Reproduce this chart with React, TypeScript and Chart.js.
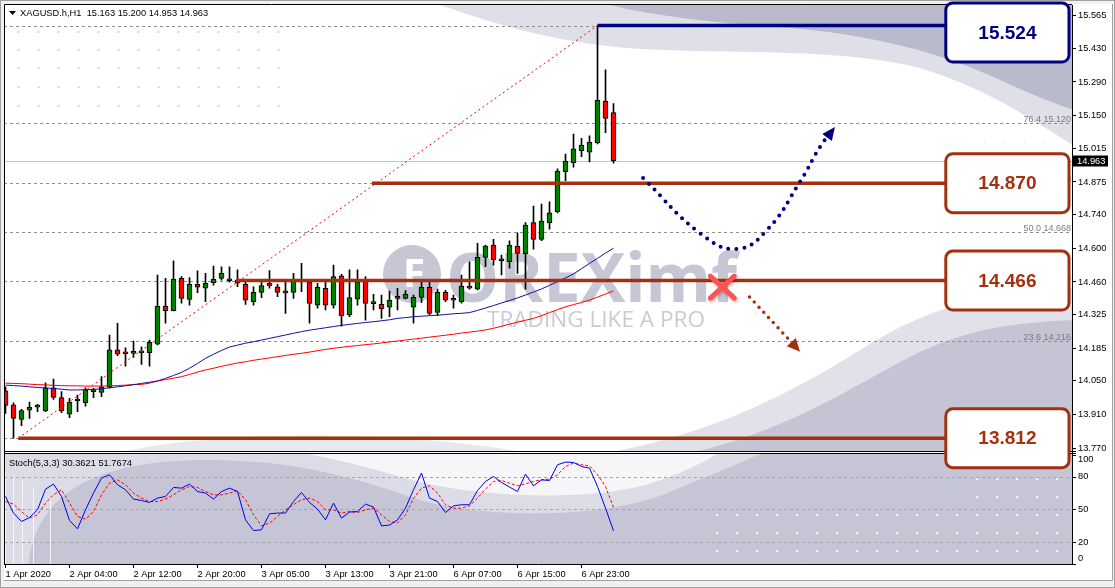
import React, { useEffect, useRef } from "react";
import { Chart, registerables } from "chart.js";

Chart.register(...registerables);

// ---------- data ----------
const opens = [14.008,13.950,13.890,13.928,13.941,13.925,14.021,13.980,13.911,13.966,13.959,14.005,14.002,14.023,14.178,14.163,14.164,14.166,14.167,14.202,14.360,14.341,14.475,14.388,14.450,14.434,14.457,14.475,14.466,14.468,14.450,14.378,14.417,14.454,14.440,14.416,14.417,14.460,14.461,14.364,14.434,14.364,14.486,14.323,14.389,14.468,14.370,14.367,14.355,14.392,14.392,14.355,14.396,14.438,14.334,14.417,14.384,14.378,14.443,14.430,14.562,14.613,14.549,14.544,14.609,14.576,14.706,14.637,14.706,14.752,14.918,14.955,15.005,14.999,15.038,15.211,15.163];
const highs = [14.025,13.959,13.932,13.962,13.952,14.042,14.057,14.005,13.977,13.991,14.021,14.019,14.067,14.240,14.288,14.187,14.215,14.191,14.219,14.489,14.475,14.548,14.482,14.478,14.506,14.496,14.526,14.523,14.523,14.510,14.464,14.440,14.461,14.507,14.450,14.468,14.496,14.537,14.468,14.454,14.461,14.530,14.492,14.510,14.510,14.482,14.409,14.406,14.422,14.434,14.424,14.406,14.461,14.461,14.430,14.425,14.406,14.489,14.544,14.620,14.613,14.637,14.572,14.631,14.664,14.706,14.775,14.783,14.793,14.930,14.991,15.074,15.056,15.066,15.524,15.340,15.200];
const lows = [13.915,13.812,13.864,13.894,13.922,13.922,13.973,13.918,13.897,13.922,13.945,13.980,13.984,14.019,14.154,14.111,14.147,14.118,14.111,14.199,14.289,14.340,14.372,14.364,14.416,14.378,14.447,14.468,14.459,14.440,14.367,14.364,14.395,14.434,14.399,14.330,14.392,14.420,14.289,14.351,14.344,14.351,14.277,14.316,14.364,14.302,14.344,14.309,14.316,14.344,14.390,14.289,14.374,14.323,14.320,14.378,14.351,14.372,14.430,14.427,14.523,14.530,14.489,14.517,14.496,14.430,14.596,14.631,14.679,14.747,14.880,14.936,14.980,14.958,15.033,15.080,14.953];
const closes = [13.948,13.894,13.926,13.940,13.943,14.021,13.981,13.925,13.962,13.968,14.012,14.007,14.025,14.178,14.160,14.162,14.165,14.167,14.210,14.360,14.341,14.472,14.392,14.450,14.438,14.454,14.471,14.496,14.465,14.455,14.385,14.417,14.445,14.445,14.417,14.415,14.464,14.462,14.371,14.438,14.364,14.482,14.319,14.395,14.461,14.371,14.371,14.348,14.385,14.393,14.410,14.396,14.438,14.330,14.417,14.385,14.386,14.443,14.434,14.562,14.609,14.551,14.548,14.613,14.579,14.696,14.637,14.713,14.747,14.920,14.962,15.012,15.028,15.040,15.215,15.139,14.963];

const maFast = [14.032,14.030,14.028,14.025,14.022,14.020,14.018,14.015,14.012,14.012,14.013,14.014,14.017,14.021,14.025,14.029,14.034,14.039,14.044,14.049,14.060,14.072,14.085,14.102,14.122,14.143,14.160,14.176,14.190,14.198,14.206,14.212,14.219,14.226,14.233,14.240,14.247,14.254,14.260,14.265,14.270,14.275,14.280,14.284,14.288,14.292,14.295,14.299,14.303,14.309,14.312,14.316,14.318,14.320,14.322,14.325,14.328,14.330,14.333,14.342,14.352,14.362,14.373,14.383,14.394,14.406,14.418,14.431,14.446,14.461,14.477,14.493,14.515,14.537,14.558,14.580,14.600];
const maSlow = [14.040,14.039,14.038,14.036,14.034,14.033,14.031,14.030,14.029,14.029,14.028,14.028,14.028,14.029,14.030,14.032,14.034,14.035,14.040,14.049,14.055,14.061,14.067,14.076,14.086,14.095,14.102,14.110,14.117,14.124,14.129,14.135,14.140,14.145,14.150,14.155,14.160,14.164,14.169,14.175,14.180,14.185,14.189,14.193,14.196,14.200,14.203,14.207,14.211,14.215,14.219,14.223,14.227,14.231,14.235,14.239,14.243,14.248,14.252,14.256,14.261,14.268,14.276,14.285,14.293,14.301,14.309,14.320,14.333,14.345,14.357,14.366,14.375,14.385,14.397,14.410,14.423];

const stochK = [61.8,46.6,38.9,42.5,49.6,68.5,73.1,61.8,39.8,32.2,49.6,64.9,78.6,81.6,72.5,67.9,59.4,58.1,56.3,60.3,61.8,70.0,69.4,73.1,66.3,64.9,59.4,66.3,69.4,66.3,40.4,30.6,31.3,45.9,46.6,46.6,57.2,65.4,56.3,50.2,40.4,55.7,42.0,47.5,48.0,54.8,52.1,34.9,35.6,40.4,51.1,67.9,83.2,60.3,57.2,47.1,53.2,54.2,54.2,67.2,75.5,80.1,74.6,70.4,66.3,82.2,71.5,77.0,76.4,90.8,93.2,92.9,89.2,87.7,70.9,51.1,30.4];
const stochD = [57.2,54.8,48.0,42.0,45.0,55.7,63.3,67.9,55.7,43.5,41.1,48.0,63.3,74.0,77.0,72.5,64.9,60.3,57.2,57.2,59.4,63.3,67.9,70.9,70.0,66.3,63.3,63.3,64.9,67.0,58.7,45.0,34.9,37.4,43.5,49.6,54.2,58.7,60.3,57.2,49.6,49.6,46.6,48.0,47.1,49.6,51.1,45.0,38.9,37.5,45.0,60.0,69.4,71.5,64.9,54.2,51.1,51.1,53.2,60.3,68.5,75.5,76.4,74.0,71.5,73.4,75.5,77.0,77.7,81.6,89.2,92.3,90.8,89.8,81.6,70.9,51.8];

const priceTicks = [15.565, 15.43, 15.29, 15.15, 15.015, 14.875, 14.74, 14.6, 14.46, 14.325, 14.185, 14.05, 13.91, 13.77];
const stochTicks = [100, 80, 50, 20, 0];
const stochLevels = [80, 50, 20];
const timeTickIndex = [0, 8, 16, 24, 32, 40, 48, 56, 64, 72];
const timeTickLabels = ["1 Apr 2020", "2 Apr 04:00", "2 Apr 12:00", "2 Apr 20:00", "3 Apr 05:00", "3 Apr 13:00", "3 Apr 21:00", "6 Apr 07:00", "6 Apr 15:00", "6 Apr 23:00"];

const fibLow = 13.812;
const fibHigh = 15.524;
const fibStartIndex = 1.6;
const fibEndIndex = 74;
const fibLevels = [0, 23.6, 38.2, 50, 61.8, 76.4, 100];

const levelPrices = [15.524, 14.87, 14.466, 13.812];
const levelStartIndex = [74, 45.8, 28.8, 1.6];
const levelEndIndex = 117.6;
const lastPrice = 14.963;

const upPathIndex = [79.7, 86.8, 91.4, 95.2, 99.3, 101.8, 103.3];
const upPathPrice = [14.891, 14.663, 14.597, 14.676, 14.875, 15.02, 15.086];
const downPathIndex = [93.0, 98.9];
const downPathPrice = [14.398, 14.186];
const crossIndex = 89.6;
const crossPrice = 14.439;

const symbolTitle = "XAGUSD.h,H1  15.163 15.200 14.953 14.963";
const stochTitle = "Stoch(5,3,3) 30.3621 51.7674";

// ---------- styles ----------
const GREEN = "#008000";
const RED = "#ff0000";
const NAVY = "#000080";
const BROWN = "#a3300f";
const FONT = '"Liberation Sans", Arial, sans-serif';
const AX_FONT = { family: FONT, size: 9.3 };

const decor: any = {
  id: "decor",
  beforeDraw(chart: any) {
    const { ctx, chartArea: ca, scales } = chart;
    const y = scales.y;
    const y2 = scales.y2;
    ctx.save();
    ctx.fillStyle = "#f0f0f0";
    ctx.fillRect(0, 0, chart.width, chart.height);
    ctx.fillStyle = "#ffffff";
    ctx.fillRect(4, 4, 1108, 576);
    ctx.strokeStyle = "#a0a0a0";
    ctx.lineWidth = 1;
    ctx.strokeRect(0.5, 0.5, chart.width - 1, chart.height - 1);
    ctx.beginPath();
    ctx.moveTo(1112.5, 4);
    ctx.lineTo(1112.5, 580.5);
    ctx.lineTo(4, 580.5);
    ctx.stroke();

    // main panel swooshes
    ctx.save();
    ctx.beginPath();
    ctx.rect(ca.left, y.top, ca.right - ca.left, y.bottom - y.top - 1);
    ctx.clip();
    ctx.fillStyle = "#dfdfe8";
    ctx.beginPath();
    ctx.moveTo(425, 0);
    ctx.bezierCurveTo(480, 18, 540, 42, 640, 49);
    ctx.bezierCurveTo(740, 54, 840, 48, 920, 68);
    ctx.bezierCurveTo(990, 90, 1030, 118, 1080, 150);
    ctx.lineTo(1080, 0);
    ctx.closePath();
    ctx.fill();
    ctx.fillStyle = "#babacd";
    ctx.beginPath();
    ctx.moveTo(590, 0);
    ctx.bezierCurveTo(640, 14, 700, 22, 780, 27);
    ctx.bezierCurveTo(870, 34, 940, 52, 1000, 80);
    ctx.bezierCurveTo(1030, 94, 1055, 104, 1080, 112);
    ctx.lineTo(1080, 0);
    ctx.closePath();
    ctx.fill();
    // bottom-right hill
    ctx.fillStyle = "#e1e1ea";
    ctx.beginPath();
    ctx.moveTo(560, 460);
    ctx.bezierCurveTo(690, 445, 780, 400, 860, 350);
    ctx.bezierCurveTo(920, 312, 980, 290, 1080, 288);
    ctx.lineTo(1080, 460);
    ctx.closePath();
    ctx.fill();
    ctx.fillStyle = "#c4c4d4";
    ctx.beginPath();
    ctx.moveTo(650, 460);
    ctx.bezierCurveTo(760, 445, 830, 400, 900, 362);
    ctx.bezierCurveTo(955, 333, 1000, 322, 1080, 320);
    ctx.lineTo(1080, 460);
    ctx.closePath();
    ctx.fill();
    // bottom-left bump
    ctx.fillStyle = "#e8e8ef";
    ctx.beginPath();
    ctx.moveTo(110, 455);
    ctx.bezierCurveTo(200, 430, 400, 428, 540, 455);
    ctx.closePath();
    ctx.fill();
    // dots top-left
    ctx.fillStyle = "#d2d2de";
    for (const dy of [32, 50, 68, 87, 106]) {
      for (let k = 0; k < 14; k++) {
        ctx.fillRect(17.5 + 20 * k, dy - 1, 2, 2);
      }
    }
    ctx.fillStyle = "#f2f2f6";
    for (let k = 0; k < 4; k++) ctx.fillRect(984 + 20 * k, 141, 2, 2);
    ctx.restore();

    // stochastic panel background
    ctx.save();
    ctx.beginPath();
    ctx.rect(ca.left, y2.top + 1.5, ca.right - ca.left, y2.bottom - y2.top - 1.5);
    ctx.clip();
    ctx.fillStyle = "#c5c5d5";
    ctx.fillRect(0, 440, 1100, 140);
    ctx.fillStyle = "#dcdce6";
    ctx.beginPath();
    ctx.moveTo(0, 440);
    ctx.lineTo(0, 570);
    ctx.lineTo(28, 570);
    ctx.bezierCurveTo(34, 495, 90, 462, 200, 460);
    ctx.bezierCurveTo(300, 459, 360, 480, 420, 500);
    ctx.bezierCurveTo(490, 520, 610, 518, 670, 492);
    ctx.bezierCurveTo(710, 475, 750, 460, 790, 440);
    ctx.closePath();
    ctx.fill();
    ctx.fillStyle = "#f6f6f9";
    ctx.beginPath();
    ctx.moveTo(230, 440);
    ctx.bezierCurveTo(330, 456, 370, 468, 420, 482);
    ctx.bezierCurveTo(500, 500, 600, 500, 655, 482);
    ctx.bezierCurveTo(690, 470, 715, 458, 735, 440);
    ctx.closePath();
    ctx.fill();
    ctx.strokeStyle = "rgba(255,255,255,0.75)";
    ctx.lineWidth = 1;
    for (const vx of [5.5, 13.5, 22.5, 33.5, 50.5]) {
      ctx.beginPath();
      ctx.moveTo(vx, 470 + (vx - 5) * 0.6);
      ctx.lineTo(vx, 570);
      ctx.stroke();
    }
    ctx.fillStyle = "#f4f4f8";
    for (const dy of [515, 533, 551]) {
      for (let k = 0; k < 18; k++) ctx.fillRect(716 + 20 * k, dy - 1, 2.2, 2.2);
    }
    for (const dy of [479, 497]) {
      for (let k = 0; k < 5; k++) ctx.fillRect(976 + 20 * k, dy - 1, 2.2, 2.2);
    }
    ctx.restore();
    ctx.restore();
  },
  beforeDatasetsDraw(chart: any) {
    const { ctx, chartArea: ca, scales } = chart;
    const y = scales.y;
    const y2 = scales.y2;
    ctx.save();
    // watermark
    ctx.fillStyle = "#c6c6d4";
    ctx.beginPath();
    ctx.arc(412, 274, 29, 0, Math.PI * 2);
    ctx.fill();
    ctx.fillStyle = "#ffffff";
    ctx.font = `700 40px "Open Sans", ${FONT}`;
    ctx.textAlign = "center";
    ctx.textBaseline = "middle";
    ctx.fillText("F", 414, 276);
    const fitText = (t: string, x0: number, base: number, w: number, font: string) => {
      ctx.font = font;
      const m = ctx.measureText(t).width;
      ctx.save();
      ctx.translate(x0, base);
      ctx.scale(w / m, 1);
      ctx.textAlign = "left";
      ctx.textBaseline = "alphabetic";
      ctx.fillText(t, 0, 0);
      ctx.restore();
    };
    ctx.fillStyle = "#c6c6d4";
    fitText("OREXimf", 446, 302, 291, `700 68px "Open Sans", ${FONT}`);
    ctx.fillStyle = "#cacad7";
    fitText("TRADING LIKE A PRO", 487, 327, 218, `400 22px "Open Sans", ${FONT}`);

    // fibonacci levels
    ctx.strokeStyle = "#8e8e8e";
    ctx.lineWidth = 1;
    ctx.setLineDash([3, 3]);
    ctx.font = `9px ${FONT}`;
    ctx.textAlign = "right";
    ctx.textBaseline = "alphabetic";
    for (const pct of fibLevels) {
      const p = fibLow + ((fibHigh - fibLow) * pct) / 100;
      const py = Math.round(y.getPixelForValue(p)) + 0.5;
      ctx.beginPath();
      ctx.moveTo(ca.left, py);
      ctx.lineTo(ca.right, py);
      ctx.stroke();
      ctx.fillStyle = "#7c7c7c";
      ctx.fillText(`${pct.toFixed(1)} ${p.toFixed(3)}`, ca.right - 1, py - 2);
    }
    // stochastic levels
    ctx.strokeStyle = "#a4a4a8";
    for (const lv of stochLevels) {
      const py = Math.round(y2.getPixelForValue(lv)) + 0.5;
      ctx.beginPath();
      ctx.moveTo(ca.left, py);
      ctx.lineTo(ca.right, py);
      ctx.stroke();
    }
    ctx.setLineDash([]);
    // last price line
    ctx.strokeStyle = "#c4c4c4";
    const lp = Math.round(y.getPixelForValue(lastPrice)) + 0.5;
    ctx.beginPath();
    ctx.moveTo(ca.left, lp);
    ctx.lineTo(ca.right, lp);
    ctx.stroke();
    ctx.restore();
  },
  afterDraw(chart: any) {
    const { ctx, chartArea: ca, scales } = chart;
    const x = scales.x;
    const y = scales.y;
    const y2 = scales.y2;
    ctx.save();
    // frame
    ctx.strokeStyle = "#000";
    ctx.lineWidth = 1;
    ctx.beginPath();
    ctx.moveTo(4.5, ca.bottom);
    ctx.lineTo(4.5, 4.5);
    ctx.lineTo(ca.right, 4.5);
    ctx.moveTo(4, 451.5);
    ctx.lineTo(ca.right + 4, 451.5);
    ctx.moveTo(4, 453.5);
    ctx.lineTo(ca.right + 4, 453.5);
    ctx.stroke();

    // arrowheads
    const head = (x0: number, y0: number, x1: number, y1: number, color: string) => {
      const ang = Math.atan2(y1 - y0, x1 - x0);
      ctx.save();
      ctx.fillStyle = color;
      ctx.translate(x1, y1);
      ctx.rotate(ang);
      ctx.beginPath();
      ctx.moveTo(5, 0);
      ctx.lineTo(-8, -6);
      ctx.lineTo(-8, 6);
      ctx.closePath();
      ctx.fill();
      ctx.restore();
    };
    const nU = upPathIndex.length;
    head(
      x.getPixelForValue(upPathIndex[nU - 2]), y.getPixelForValue(upPathPrice[nU - 2]),
      x.getPixelForValue(upPathIndex[nU - 1]), y.getPixelForValue(upPathPrice[nU - 1]), NAVY);
    head(
      x.getPixelForValue(downPathIndex[0]), y.getPixelForValue(downPathPrice[0]),
      x.getPixelForValue(downPathIndex[1]), y.getPixelForValue(downPathPrice[1]), BROWN);

    // red cross
    const cx = x.getPixelForValue(crossIndex);
    const cy = y.getPixelForValue(crossPrice);
    ctx.save();
    ctx.strokeStyle = "#ff5252";
    ctx.lineWidth = 5;
    ctx.lineCap = "round";
    ctx.shadowColor = "rgba(120,0,0,0.3)";
    ctx.shadowBlur = 3;
    ctx.shadowOffsetX = 1;
    ctx.shadowOffsetY = 2;
    ctx.beginPath();
    ctx.moveTo(cx - 12, cy - 11);
    ctx.lineTo(cx + 12, cy + 11);
    ctx.moveTo(cx + 12, cy - 11);
    ctx.lineTo(cx - 12, cy + 11);
    ctx.stroke();
    ctx.restore();

    // level boxes
    const bx0 = x.getPixelForValue(levelEndIndex) - 0.5;
    const bx1 = ca.right - 3;
    levelPrices.forEach((p, k) => {
      const color = k === 0 ? NAVY : BROWN;
      const py = y.getPixelForValue(p);
      const h = 59;
      let top = py - h / 2;
      if (top < 3) top = 3;
      ctx.beginPath();
      ctx.roundRect(bx0, top, bx1 - bx0, h, 7);
      ctx.fillStyle = "#fff";
      ctx.fill();
      ctx.lineWidth = 3;
      ctx.strokeStyle = color;
      ctx.stroke();
      ctx.fillStyle = color;
      ctx.font = `700 19px ${FONT}`;
      ctx.textAlign = "center";
      ctx.textBaseline = "middle";
      ctx.fillText(p.toFixed(3), (bx0 + bx1) / 2, top + h / 2 + 1);
    });

    // titles
    ctx.fillStyle = "#000";
    ctx.beginPath();
    ctx.moveTo(9, 11);
    ctx.lineTo(16, 11);
    ctx.lineTo(12.5, 15);
    ctx.closePath();
    ctx.fill();
    ctx.font = `9.3px ${FONT}`;
    ctx.textAlign = "left";
    ctx.textBaseline = "middle";
    ctx.fillText(symbolTitle, 20, 13.5);
    ctx.fillText(stochTitle, 9, 463);

    // last price label on axis
    const lp = Math.round(y.getPixelForValue(lastPrice));
    ctx.fillStyle = "#000";
    ctx.fillRect(ca.right + 1, lp - 5.5, 35, 11);
    ctx.fillStyle = "#fff";
    ctx.font = `9.3px ${FONT}`;
    ctx.fillText(lastPrice.toFixed(3), ca.right + 5, lp + 0.5);

    // stochastic axis
    ctx.fillStyle = "#000";
    ctx.strokeStyle = "#000";
    ctx.lineWidth = 1;
    for (const v of stochTicks) {
      const py = y2.getPixelForValue(v);
      ctx.beginPath();
      ctx.moveTo(ca.right, Math.round(py) + 0.5);
      ctx.lineTo(ca.right + 4, Math.round(py) + 0.5);
      ctx.stroke();
      const ly = Math.min(Math.max(py, y2.top + 7), y2.bottom - 6);
      ctx.fillText(String(v), ca.right + 6, ly);
    }
    ctx.restore();
  },
};

export default function App() {
  const ref = useRef<HTMLCanvasElement>(null);
  useEffect(() => {
    document.body.style.margin = "0";
    const canvas = ref.current!;
    const idx = opens.map((_, i) => i);
    const bodyColors = idx.map((i) => (closes[i] >= opens[i] ? GREEN : RED));
    const zeroPad = (s: any) => {
      s.paddingTop = 0;
      s.paddingBottom = 0;
      s.paddingLeft = 0;
      s.paddingRight = 0;
    };
    const levelDatasets = levelPrices.map((p, k) => ({
      type: "line",
      data: [
        { x: levelStartIndex[k], y: p },
        { x: levelEndIndex, y: p },
      ],
      borderColor: k === 0 ? NAVY : BROWN,
      borderWidth: 3.5,
      pointRadius: 0,
      yAxisID: "y",
      order: 3,
    }));
    const chart = new Chart(canvas, {
      type: "bar",
      data: {
        datasets: [
          {
            type: "line",
            data: upPathIndex.map((v, i) => ({ x: v, y: upPathPrice[i] })),
            borderColor: NAVY,
            borderWidth: 4,
            borderDash: [0, 8],
            borderCapStyle: "round",
            tension: 0.45,
            pointRadius: 0,
            yAxisID: "y",
            order: 1,
          },
          {
            type: "line",
            data: downPathIndex.map((v, i) => ({ x: v, y: downPathPrice[i] })),
            borderColor: BROWN,
            borderWidth: 3.5,
            borderDash: [0, 7],
            borderCapStyle: "round",
            pointRadius: 0,
            yAxisID: "y",
            order: 1,
          },
          ...levelDatasets,
          {
            type: "line",
            data: [
              { x: fibStartIndex, y: fibLow },
              { x: fibEndIndex, y: fibHigh },
            ],
            borderColor: RED,
            borderWidth: 1,
            borderDash: [2, 3],
            pointRadius: 0,
            yAxisID: "y",
            order: 5,
          },
          {
            type: "line",
            data: idx.map((i) => ({ x: i, y: maFast[i] })),
            borderColor: "#1010a0",
            borderWidth: 1,
            pointRadius: 0,
            yAxisID: "y",
            order: 6,
          },
          {
            type: "line",
            data: idx.map((i) => ({ x: i, y: maSlow[i] })),
            borderColor: RED,
            borderWidth: 1,
            pointRadius: 0,
            yAxisID: "y",
            order: 6,
          },
          {
            type: "line",
            data: idx.map((i) => ({ x: i, y: stochK[i] })),
            borderColor: "#0000e6",
            borderWidth: 1,
            pointRadius: 0,
            yAxisID: "y2",
            order: 6,
          },
          {
            type: "line",
            data: idx.map((i) => ({ x: i, y: stochD[i] })),
            borderColor: RED,
            borderWidth: 1,
            borderDash: [3, 2],
            pointRadius: 0,
            yAxisID: "y2",
            order: 7,
          },
          {
            type: "bar",
            data: idx.map((i) => ({ x: i, y: [opens[i], closes[i]] })),
            backgroundColor: bodyColors,
            borderColor: "#000",
            borderWidth: 1,
            borderSkipped: false,
            barThickness: 5,
            minBarLength: 2,
            grouped: false,
            yAxisID: "y",
            order: 8,
          },
          {
            type: "bar",
            data: idx.map((i) => ({ x: i, y: [lows[i], highs[i]] })),
            backgroundColor: "#000",
            borderWidth: 0,
            barThickness: 1,
            grouped: false,
            yAxisID: "y",
            order: 9,
          },
        ] as any,
      },
      options: {
        responsive: false,
        devicePixelRatio: 1,
        animation: false,
        events: [],
        layout: { padding: { left: 4, top: 5, right: 0, bottom: 0 } },
        plugins: { legend: { display: false }, tooltip: { enabled: false } },
        scales: {
          x: {
            type: "linear",
            min: -0.1875,
            max: 133.3125,
            offset: false,
            grid: { display: true, drawOnChartArea: false, offset: false, tickLength: 4, color: "#000" },
            border: { display: true, color: "#000" },
            ticks: {
              align: "start",
              autoSkip: false,
              maxRotation: 0,
              minRotation: 0,
              padding: 1,
              color: "#000",
              font: AX_FONT,
              callback: (v: any) => {
                const k = timeTickIndex.indexOf(Number(v));
                return k >= 0 ? timeTickLabels[k] : "";
              },
            },
            afterBuildTicks: (s: any) => {
              s.ticks = timeTickIndex.map((v) => ({ value: v }));
            },
            afterFit: (s: any) => {
              s.height = 24;
              zeroPad(s);
            },
          },
          y: {
            type: "linear",
            position: "right",
            stack: "panes",
            stackWeight: 447.5,
            min: 13.7524,
            max: 15.6093,
            grid: { display: true, drawOnChartArea: false, tickLength: 4, color: "#000" },
            border: { display: true, color: "#000" },
            ticks: {
              autoSkip: false,
              padding: 2,
              color: "#000",
              font: AX_FONT,
              callback: (v: any) => Number(v).toFixed(3),
            },
            afterBuildTicks: (s: any) => {
              s.ticks = priceTicks.map((v) => ({ value: v }));
            },
            afterFit: (s: any) => {
              s.width = 43;
              zeroPad(s);
            },
          },
          y2: {
            type: "linear",
            position: "right",
            stack: "panes",
            stackWeight: 111.5,
            min: 0,
            max: 102,
            grid: { display: false },
            border: { display: true, color: "#000" },
            ticks: { display: false },
            afterFit: (s: any) => {
              s.width = 43;
              zeroPad(s);
            },
          },
        } as any,
      },
      plugins: [decor],
    } as any);
    return () => chart.destroy();
  }, []);
  return <canvas ref={ref} width={1115} height={588} style={{ display: "block" }} />;
}
